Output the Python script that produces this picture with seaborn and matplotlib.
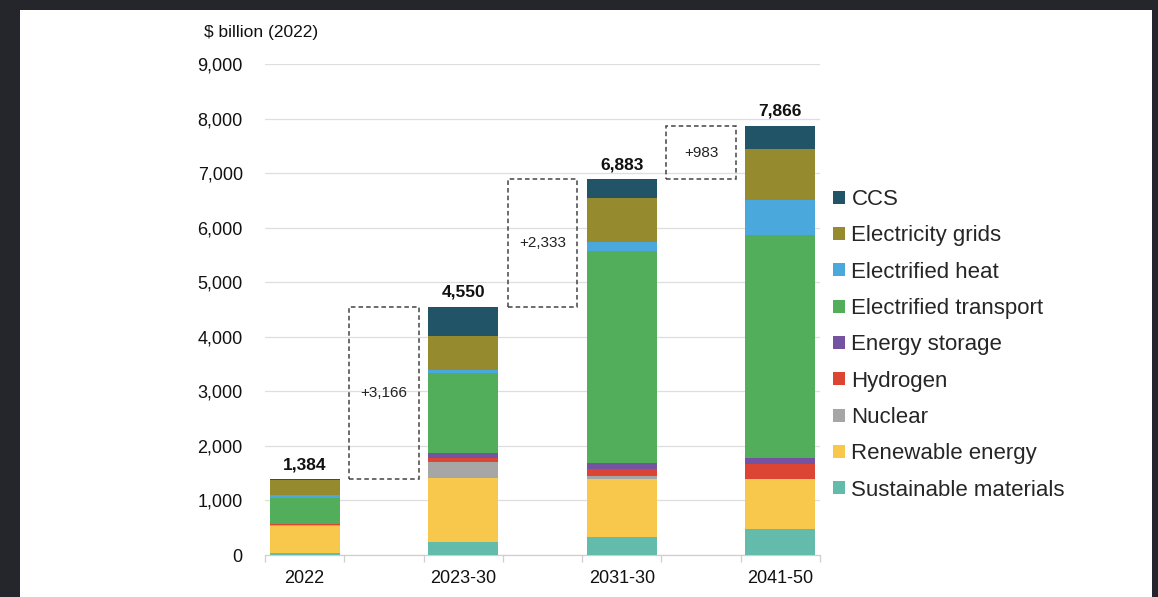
import matplotlib
matplotlib.use("Agg")
import matplotlib.pyplot as plt
from matplotlib.patches import Rectangle, Patch
from matplotlib.ticker import FuncFormatter
import numpy as np
import pandas as pd
import seaborn as sns

# Investment by period, $ billion (2022)
periods = ["2022", "2023-30", "2031-30", "2041-50"]
technologies = [
    "Sustainable materials", "Renewable energy", "Nuclear", "Hydrogen",
    "Energy storage", "Electrified transport", "Electrified heat",
    "Electricity grids", "CCS",
]
sustainable_materials = [30, 233, 335, 476]
renewable_energy = [510, 1185, 1051, 911]
nuclear = [18, 282, 66, 10]
hydrogen = [2, 73, 123, 262]
energy_storage = [15, 92, 104, 123]
electrified_transport = [470, 1471, 3891, 4082]
electrified_heat = [60, 49, 165, 641]
electricity_grids = [275, 628, 811, 945]
ccs = [4, 537, 337, 416]

colors = ["#63bcab", "#f7c84b", "#a6a6a6", "#dc4433", "#7454a0",
          "#52ae5a", "#4aa8dc", "#968a2e", "#215467"]

layers = [sustainable_materials, renewable_energy, nuclear, hydrogen,
          energy_storage, electrified_transport, electrified_heat,
          electricity_grids, ccs]

sns.set_style("white")
plt.rcParams["font.family"] = ["Liberation Sans", "DejaVu Sans"]

fig = plt.figure(figsize=(11.58, 5.97), dpi=100)
fig.patch.set_facecolor("#25262b")
fig.patches.append(Rectangle((20 / 1158, 0), 1132 / 1158, 587 / 597,
                             transform=fig.transFigure, facecolor="white",
                             edgecolor="none", zorder=-10))

ax = fig.add_axes([265 / 1158, 42 / 597, 555 / 1158, 491 / 597])
ax.set_facecolor("none")

# bars sit on even slots, the change boxes on the odd slots between them
bar_slots = np.arange(len(periods)) * 2
values = pd.DataFrame(dict(zip(technologies, layers)), index=periods)
cumulative = values.cumsum(axis=1)
totals = cumulative[technologies[-1]].to_numpy()

# stacked bars: draw cumulative heights from the top layer down
for tech, col in reversed(list(zip(technologies, colors))):
    sns.barplot(x=bar_slots, y=cumulative[tech].to_numpy(), native_scale=True,
                width=0.44, color=col, saturation=1, linewidth=0, ax=ax,
                zorder=3)

# totals above bars
for slot, tot in zip(bar_slots, totals):
    ax.annotate(f"{tot:,.0f}", (slot, tot), xytext=(0, 5),
                textcoords="offset points", ha="center", va="bottom",
                fontsize=12.5, fontweight="bold", color="#111111")

# dashed boxes showing the change between periods
for i in range(len(periods) - 1):
    lo, hi = totals[i], totals[i + 1]
    cx = bar_slots[i] + 1
    ax.add_patch(Rectangle((cx - 0.44, lo), 0.88, hi - lo, fill=False,
                           edgecolor="#444444", linestyle=(0, (3, 2)),
                           linewidth=1.1, zorder=4))
    ax.text(cx, (lo + hi) / 2, f"+{hi - lo:,.0f}", ha="center", va="center",
            fontsize=11, color="#222222")

ax.set_xlim(-0.5, 2 * len(periods) - 1.5)
ax.set_ylim(0, 9000)
ax.set_yticks(np.arange(0, 9001, 1000))
ax.yaxis.set_major_formatter(FuncFormatter(lambda v, p: f"{v:,.0f}"))
ax.yaxis.grid(True, color="#dedede", linewidth=0.9)
ax.xaxis.grid(False)
ax.set_axisbelow(True)

ax.set_xticks(bar_slots)
ax.set_xticklabels(periods)
ax.set_xticks(np.arange(-0.5, 2 * len(periods) - 1, 1), minor=True)
ax.tick_params(axis="x", which="major", length=0, pad=11, labelsize=13,
               labelcolor="#111111")
ax.tick_params(axis="x", which="minor", bottom=True, length=5, width=0.9,
               color="#cfcfcf", direction="out")
ax.tick_params(axis="y", length=0, pad=16, labelsize=13, labelcolor="#111111")
ax.set_xlabel("")
ax.set_ylabel("")

for side in ["left", "right", "top"]:
    ax.spines[side].set_visible(False)
ax.spines["bottom"].set_color("#cfcfcf")
ax.spines["bottom"].set_linewidth(0.9)

fig.text(204 / 1158, 1 - 32 / 597, "$ billion (2022)", ha="left",
         va="center", fontsize=12.5, color="#111111")

handles = [Patch(facecolor=c, edgecolor="none") for c in colors][::-1]
fig.legend(handles, technologies[::-1], loc="upper left",
           bbox_to_anchor=(833 / 1158, 1 - 189 / 597), frameon=False,
           fontsize=16, handlelength=0.53, handleheight=0.53,
           handletextpad=0.3, labelspacing=0.69, borderpad=0,
           borderaxespad=0)

fig.savefig("out.png", dpi=100, facecolor=fig.get_facecolor())
